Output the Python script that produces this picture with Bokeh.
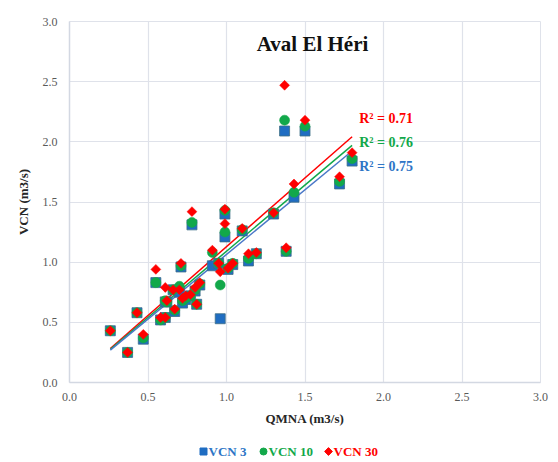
import numpy as np
from bokeh.plotting import figure
from bokeh.models import Range1d, FixedTicker, Label, PrintfTickFormatter
from bokeh.layouts import column
from bokeh.core.properties import value
from bokeh.embed import file_html
from bokeh.resources import INLINE

# ---- data ----
qmna = [0.26, 0.37, 0.43, 0.47, 0.55, 0.58, 0.61, 0.61, 0.62, 0.66, 0.67, 0.70, 0.71,
        0.72, 0.74, 0.77, 0.78, 0.80, 0.81, 0.83, 0.91, 0.95, 0.96, 0.99, 0.99, 1.01,
        1.04, 1.10, 1.14, 1.19, 1.30, 1.37, 1.38, 1.43, 1.50, 1.72, 1.80]
vcn3 = [0.43, 0.25, 0.58, 0.36, 0.83, 0.52, 0.54, 0.67, 0.67, 0.77, 0.59, 0.75, 0.96,
        0.66, 0.69, 0.72, 1.31, 0.76, 0.65, 0.81, 0.97, 0.99, 0.53, 1.40, 1.21, 0.94,
        0.98, 1.26, 1.01, 1.07, 1.40, 2.09, 1.09, 1.54, 2.09, 1.65, 1.84]
vcn10 = [0.43, 0.25, 0.58, 0.37, 0.83, 0.52, 0.54, 0.68, 0.67, 0.77, 0.60, 0.80, 0.97,
         0.68, 0.70, 0.72, 1.33, 0.77, 0.65, 0.82, 1.08, 0.99, 0.81, 1.43, 1.25, 0.95,
         0.99, 1.27, 1.03, 1.07, 1.41, 2.18, 1.09, 1.58, 2.13, 1.67, 1.86]
vcn30 = [0.43, 0.25, 0.58, 0.40, 0.94, 0.54, 0.54, 0.79, 0.68, 0.77, 0.61, 0.77, 0.99,
         0.70, 0.72, 0.73, 1.42, 0.79, 0.65, 0.83, 1.10, 0.99, 0.92, 1.44, 1.32, 0.95,
         0.99, 1.28, 1.07, 1.08, 1.41, 2.47, 1.12, 1.65, 2.18, 1.71, 1.91]
series_names = ["VCN 3", "VCN 10", "VCN 30"]
r2_texts = ["R² = 0.75", "R² = 0.76", "R² = 0.71"]
x_ticks = [0.0, 0.5, 1.0, 1.5, 2.0, 2.5, 3.0]
y_ticks = [0.0, 0.5, 1.0, 1.5, 2.0, 2.5, 3.0]
title_text = "Aval El Héri"

BLUE = "#1f6dc2"
GREEN = "#12a84a"
RED = "#ff0000"
BLUE_LINE = "#4a78c8"
BLUE_TEXT = "#2e75c6"
GRID = "#dfe2ea"
SERIF = "Liberation Serif"
W = 552
BL, BR = 69, 12

p = figure(width=W, height=430, output_backend="svg", toolbar_location=None,
           x_range=Range1d(0, 3), y_range=Range1d(0, 3),
           min_border_left=BL, min_border_right=BR, min_border_top=21, min_border_bottom=48)
p.outline_line_color = GRID
p.background_fill_color = "white"
p.border_fill_color = "white"

for ax, ticks in ((p.xaxis[0], x_ticks), (p.yaxis[0], y_ticks)):
    ax.ticker = FixedTicker(ticks=ticks)
    ax.formatter = PrintfTickFormatter(format="%.1f")
    ax.major_tick_line_color = None
    ax.minor_tick_line_color = None
    ax.major_tick_out = 0
    ax.major_tick_in = 0
    ax.axis_line_color = "#d3d8e2"
    ax.axis_line_width = 1.5
    ax.major_label_text_font = SERIF
    ax.major_label_text_font_size = "12px"
    ax.major_label_text_color = "#595959"
    ax.axis_label_text_font = SERIF
    ax.axis_label_text_font_style = "bold"
    ax.axis_label_text_font_size = "13px"
    ax.axis_label_text_color = "#262626"

p.xaxis.axis_label = "QMNA (m3/s)"
p.yaxis.axis_label = "VCN (m3/s)"
p.xaxis.major_label_standoff = 10
p.xaxis.axis_label_standoff = 7
p.yaxis.major_label_standoff = 12
p.yaxis.axis_label_standoff = 9

p.xgrid.ticker = FixedTicker(ticks=x_ticks)
p.ygrid.ticker = FixedTicker(ticks=y_ticks)
p.grid.grid_line_color = GRID
p.grid.grid_line_width = 1.2

# trendlines (least squares fits of each series)
xa = np.array(qmna)
xs = np.array([xa.min(), xa.max()])
for vals, col in ((vcn30, RED), (vcn10, GREEN), (vcn3, BLUE_LINE)):
    k, b = np.polyfit(xa, np.array(vals), 1)
    p.line(xs, k * xs + b, line_color=col, line_width=1.5)

# markers
p.scatter(qmna, vcn3, marker="square", size=10, fill_color=BLUE, line_color="#3d6f86", line_width=0.8)
p.scatter(qmna, vcn10, marker="circle", size=10, fill_color=GREEN, line_color=GREEN, line_width=0.5)
p.scatter(qmna, vcn30, marker="square", angle=np.pi / 4, size=7, fill_color=RED, line_color=RED, line_width=0.5)

# title
p.add_layout(Label(x=1.548, y=2.815, text=title_text, text_font=SERIF, text_font_style="bold",
                   text_font_size="21px", text_align="center", text_baseline="middle",
                   text_color="#111111"))

# R2 labels
for txt, col, yy in ((r2_texts[2], RED, 2.19), (r2_texts[1], GREEN, 1.995), (r2_texts[0], BLUE_TEXT, 1.795)):
    p.add_layout(Label(x=1.845, y=yy, text=txt, text_font=SERIF, text_font_style="bold",
                       text_font_size="14px", text_color=col, text_baseline="middle"))

# legend strip below the chart (x in page pixels, frame aligned with the chart)
lg = figure(width=W, height=30, output_backend="svg", toolbar_location=None,
            x_range=Range1d(BL, W - BR), y_range=Range1d(0, 30),
            min_border_left=BL, min_border_right=BR, min_border_top=0, min_border_bottom=0,
            x_axis_location=None, y_axis_location=None)
lg.outline_line_color = None
lg.grid.visible = False
lg.border_fill_color = "white"
ly = 9
lg.scatter([203], [ly], marker="square", size=7, fill_color=BLUE, line_color=BLUE)
lg.scatter([263], [ly], marker="circle", size=7, fill_color=GREEN, line_color=GREEN)
lg.scatter([328], [ly], marker="square", angle=np.pi / 4, size=5.5, fill_color=RED, line_color=RED)
for name, col, xx in ((series_names[0], BLUE_TEXT, 208), (series_names[1], GREEN, 268), (series_names[2], RED, 333)):
    lg.text([xx], [ly], text=[name], text_font=value(SERIF), text_font_style="bold",
            text_font_size="13px", text_color=col, text_baseline="middle", text_align="left")

layout = column(p, lg, spacing=0)
open("out.html", "w").write(file_html(layout, INLINE))
